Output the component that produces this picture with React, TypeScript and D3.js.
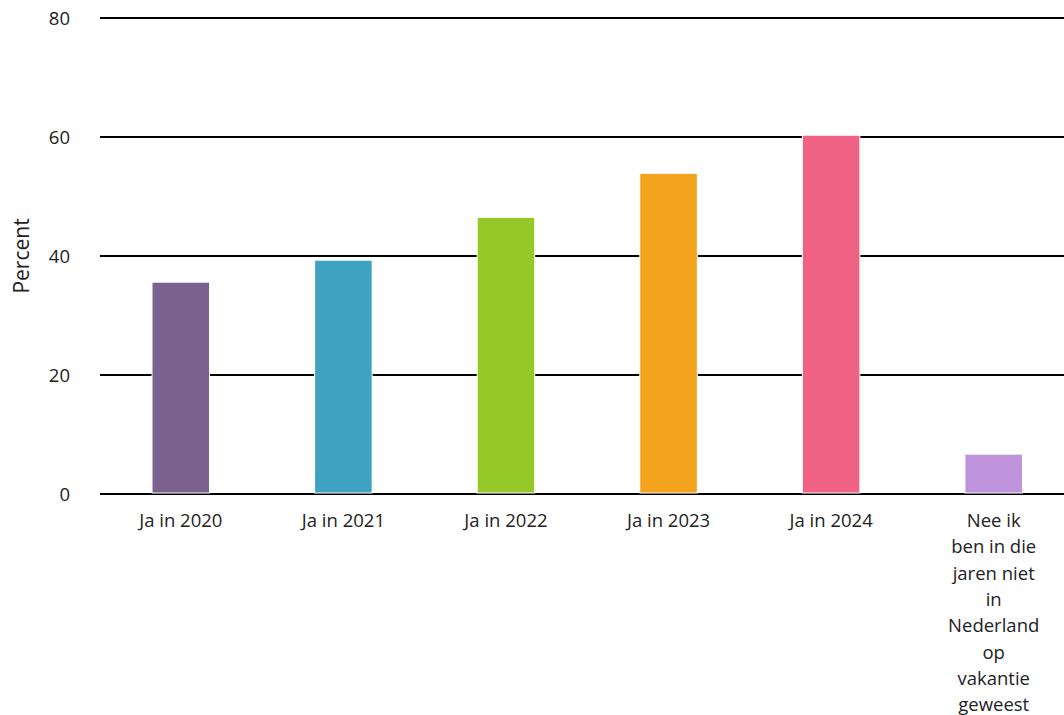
import * as d3 from "d3";
import { useEffect, useRef } from "react";

const categories = [
  "Ja in 2020",
  "Ja in 2021",
  "Ja in 2022",
  "Ja in 2023",
  "Ja in 2024",
  "Nee ik ben in die jaren niet in Nederland op vakantie geweest",
];
// tick label lines as they wrap in the chart
const tickLabels = [
  ["Ja in 2020"],
  ["Ja in 2021"],
  ["Ja in 2022"],
  ["Ja in 2023"],
  ["Ja in 2024"],
  ["Nee ik", "ben in die", "jaren niet", "in", "Nederland", "op", "vakantie", "geweest"],
];
const values = [35.6, 39.3, 46.5, 53.9, 60.3, 6.7];
const colors = ["#7b618e", "#40a2c1", "#95c928", "#f3a31c", "#f06384", "#bf93db"];
const yTicks = [0, 20, 40, 60, 80];

const FONT = "'Open Sans', sans-serif";

const App = () => {
  const ref = useRef<SVGSVGElement>(null);

  useEffect(() => {
    const svg = d3.select(ref.current);
    svg.selectAll("*").remove();

    const margin = { top: 18, left: 100, bottom: 221 },
      height = 715 - margin.top - margin.bottom;

    const x = d3
      .scaleBand()
      .domain(categories)
      .range([99.5, 1075])
      .paddingInner(0.646)
      .paddingOuter(0.323);

    const y = d3
      .scaleLinear()
      .domain([0, 80])
      .range([margin.top + height, margin.top]);

    // grid lines
    svg
      .append("g")
      .selectAll("line")
      .data(yTicks)
      .enter()
      .append("line")
      .attr("x1", margin.left)
      .attr("x2", 1064)
      .attr("y1", (d) => y(d))
      .attr("y2", (d) => y(d))
      .attr("stroke", "#000")
      .attr("stroke-width", 2);

    // y tick labels
    svg
      .append("g")
      .selectAll("text")
      .data(yTicks)
      .enter()
      .append("text")
      .attr("x", 70)
      .attr("y", (d) => y(d))
      .attr("dy", "0.36em")
      .attr("text-anchor", "end")
      .style("font-family", FONT)
      .style("font-size", "18.5px")
      .style("fill", "#222")
      .text((d) => d);

    // bars
    svg
      .selectAll(".bar")
      .data(values)
      .enter()
      .append("rect")
      .attr("class", "bar")
      .attr("x", (_, i) => x(categories[i])!)
      .attr("y", (d) => y(d))
      .attr("width", x.bandwidth())
      .attr("height", (d) => y(0) - y(d) - 1)
      .attr("fill", (_, i) => colors[i])
      .attr("stroke", "#fff")
      .attr("stroke-width", 1);

    // x labels
    categories.forEach((cat, i) => {
      const cx = x(cat)! + x.bandwidth() / 2;
      svg
        .append("text")
        .attr("x", cx)
        .attr("y", y(0) + 33)
        .attr("text-anchor", "middle")
        .style("font-family", FONT)
        .style("font-size", "18.5px")
        .style("fill", "#222")
        .selectAll("tspan")
        .data(tickLabels[i])
        .enter()
        .append("tspan")
        .attr("x", cx)
        .attr("dy", (_, j) => (j === 0 ? 0 : 26.3))
        .text((d) => d);
    });

    // y axis title
    svg
      .append("text")
      .attr("transform", `translate(29,${(y(0) + y(80)) / 2}) rotate(-90)`)
      .attr("text-anchor", "middle")
      .style("font-family", FONT)
      .style("font-size", "21px")
      .style("fill", "#222")
      .text("Percent");
  }, []);

  return (
    <svg
      ref={ref}
      width={1064}
      height={715}
      style={{ position: "absolute", left: 0, top: 0, display: "block" }}
    />
  );
};

export default App;
